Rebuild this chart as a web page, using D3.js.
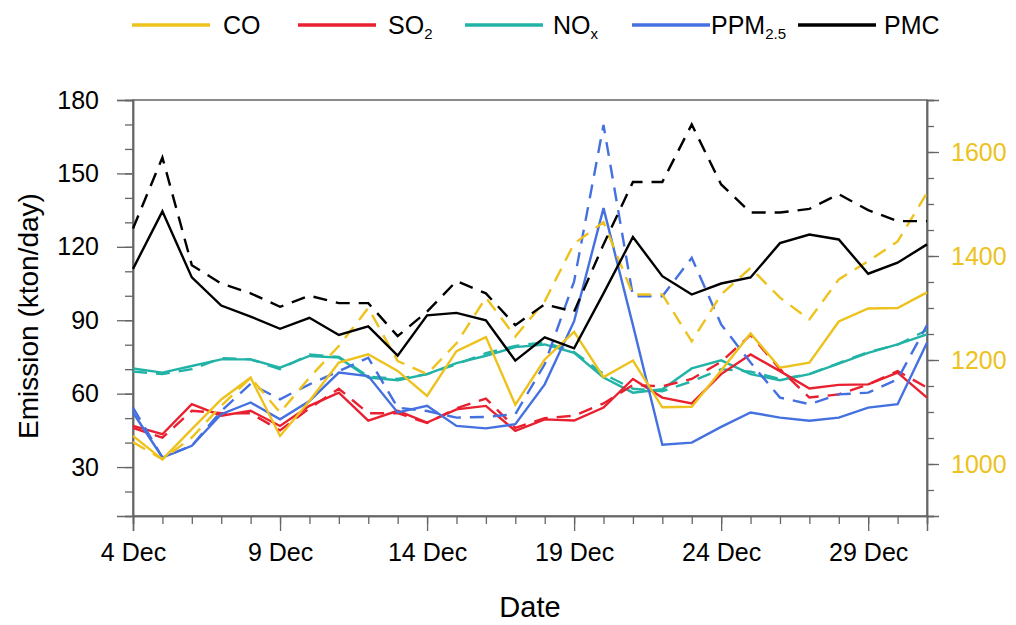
<!DOCTYPE html>
<html>
<head>
<meta charset="utf-8">
<script src="https://cdn.jsdelivr.net/npm/d3@7"></script>
<style>
  html, body { margin: 0; padding: 0; background: #fff; }
  svg { display: block; font-family: "Liberation Sans", Arial, Helvetica, sans-serif; }
</style>
</head>
<body>
<svg id="chart" width="1016" height="625"></svg>
<script>
// ---------- data ----------
const days = [4,5,6,7,8,9,10,11,12,13,14,15,16,17,18,19,20,21,22,23,24,25,26,27,28,29,30,31];
const xTickDays = [4, 9, 14, 19, 24, 29];
const xTickLabels = ["4 Dec", "9 Dec", "14 Dec", "19 Dec", "24 Dec", "29 Dec"];
const leftTicks = [30, 60, 90, 120, 150, 180];
const rightTicks = [1000, 1200, 1400, 1600];

// CO on right axis (solid / dashed)
const coSolid  = [1054,1009,1067,1124,1166,1054,1121,1195,1211,1179,1131,1217,1244,1114,1201,1254,1167,1199,1109,1110,1180,1251,1185,1195,1274,1299,1300,1330];
const coDashed = [1042,1009,1051,1112,1166,1099,1166,1227,1300,1198,1173,1232,1320,1245,1313,1424,1465,1326,1326,1236,1326,1377,1320,1278,1355,1390,1428,1521];
// left axis species
const so2Solid  = [46.8,43.4,55.7,51,53,46.8,55,60.4,49,53,48.2,53.6,55,44.8,49.5,49,54.3,66,58.4,56,68,76,69.2,62.1,63.6,63.8,68.6,58.4];
const so2Dashed = [46,42,53,52,52,45,54,62,52,52,48,54,58,46,50,51,56,63.5,63,66,73,84,70,58.4,59.7,63.8,69.2,62.5];
const noxSolid  = [70.3,68.6,71.3,74,74,70.6,75.4,74.7,66.6,65.5,68,72.5,75.5,79,80.1,76.7,66.6,60.4,61.8,70.3,73.6,68,65.5,68,72.3,76.7,80.1,84.2];
const noxDashed = [69,68,70,74.5,74,70,76,75,67,66,68,72,76.5,79.5,81,77,68,62,61,65,70,69,66,68,72.5,77,80,86];
const ppmSolid  = [52.3,33.9,38.7,51.6,56.4,49.5,57,68.6,67.2,52.3,55,46.8,45.8,47.5,63.8,89.6,135.8,88,39.1,40,46.4,52.3,50.2,48.9,50.2,54.3,55.7,80.8];
const ppmDashed = [54.3,33.9,38.7,52.9,64,57.7,63.8,69.2,74.7,54.3,52.9,50.2,50.5,51.6,72,105.9,169.8,99.8,99.8,115.5,88.3,72.7,58.4,55.7,59.7,60.4,65.9,88];
const pmcSolid  = [111,134.5,107.5,96,91.5,86.5,91,84,87.5,75.5,92,93,90,73.5,83,78.5,101,124,108,100.5,105,107.5,121.5,125,123,109,113.5,121];
const pmcDashed = [127.5,156.5,112.5,105,101,95.5,100,97,97,83.5,93.5,106,101,88,96.5,93.5,121,146.5,146.5,170,145.5,134,134,135.5,141.5,135,130.5,130.5];

const legendNames = [
  {main: "CO", sub: ""},
  {main: "SO", sub: "2"},
  {main: "NO", sub: "x"},
  {main: "PPM", sub: "2.5"},
  {main: "PMC", sub: ""}
];
const colors = ["#EEC21C", "#E8202F", "#22B3A6", "#4470E0", "#000000"];

// ---------- layout ----------
const svg = d3.select("#chart");
const L = 133, R = 927, T = 100, B = 516;

const x = d3.scaleLinear().domain([4, 31]).range([L, R]);
const yL = d3.scaleLinear().domain([10, 180]).range([B, T]);
const yR = d3.scaleLinear().domain([900, 1700]).range([B, T]);

const frameColor = "#666";

// frame
svg.append("rect").attr("x", L).attr("y", T).attr("width", R - L).attr("height", B - T)
  .attr("fill", "none").attr("stroke", frameColor).attr("stroke-width", 1.5);

// left axis
const leftAxis = d3.axisLeft(yL).tickValues(leftTicks).tickSize(16).tickPadding(18);
svg.append("g").attr("transform", `translate(${L},0)`).call(leftAxis);
const leftMinor = d3.axisLeft(yL).tickValues(d3.range(10, 181, 10)).tickSize(8).tickFormat("");
svg.append("g").attr("transform", `translate(${L},0)`).call(leftMinor);

// right axis
const rightAxis = d3.axisRight(yR).tickValues(rightTicks).tickSize(12).tickPadding(12).tickFormat(d3.format("d"));
const gr = svg.append("g").attr("transform", `translate(${R},0)`).call(rightAxis);
const rightMinor = d3.axisRight(yR).tickValues(d3.range(900, 1701, 50)).tickSize(7).tickFormat("");
svg.append("g").attr("transform", `translate(${R},0)`).call(rightMinor);

// bottom axis
const bottomAxis = d3.axisBottom(x).tickValues(xTickDays).tickSize(15).tickPadding(12)
  .tickFormat((d, i) => xTickLabels[i]);
svg.append("g").attr("transform", `translate(0,${B})`).call(bottomAxis);
const bottomMinor = d3.axisBottom(x).tickValues(days).tickSize(8).tickFormat("");
svg.append("g").attr("transform", `translate(0,${B})`).call(bottomMinor);

svg.selectAll(".domain").attr("stroke", frameColor).attr("stroke-width", 1.5);
svg.selectAll(".tick line").attr("stroke", frameColor).attr("stroke-width", 1.3);
svg.selectAll(".tick text").attr("font-size", 25).attr("font-family", "Liberation Sans, Arial, sans-serif").attr("fill", "#000");
gr.selectAll(".tick text").attr("fill", colors[0]);

// axis titles
svg.append("text").attr("transform", `translate(28,${(T + B) / 2 + 8}) rotate(-90)`)
  .attr("text-anchor", "middle").attr("dominant-baseline", "central")
  .attr("font-size", 28).text("Emission (kton/day)");
svg.append("text").attr("x", (L + R) / 2).attr("y", 607)
  .attr("text-anchor", "middle").attr("dominant-baseline", "central")
  .attr("font-size", 29).text("Date");

// lines
const lineL = d3.line().x((d, i) => x(days[i])).y(d => yL(d));
const lineR = d3.line().x((d, i) => x(days[i])).y(d => yR(d));

const series = [
  {data: noxDashed, line: lineL, color: colors[2], dash: true},
  {data: noxSolid,  line: lineL, color: colors[2], dash: false},
  {data: so2Dashed, line: lineL, color: colors[1], dash: true},
  {data: so2Solid,  line: lineL, color: colors[1], dash: false},
  {data: ppmDashed, line: lineL, color: colors[3], dash: true},
  {data: ppmSolid,  line: lineL, color: colors[3], dash: false},
  {data: coDashed,  line: lineR, color: colors[0], dash: true},
  {data: coSolid,   line: lineR, color: colors[0], dash: false},
  {data: pmcDashed, line: lineL, color: colors[4], dash: true},
  {data: pmcSolid,  line: lineL, color: colors[4], dash: false}
];
const plot = svg.append("g");
series.forEach(s => {
  plot.append("path").attr("d", s.line(s.data)).attr("fill", "none")
    .attr("stroke", s.color).attr("stroke-width", 2.4)
    .attr("stroke-linejoin", "miter")
    .attr("stroke-dasharray", s.dash ? "14,9" : null);
});

// legend
const legLineX = [132, 298, 465, 632, 798];
const legTextX = [223, 388, 553, 711, 884];
const legLen = 78, legY = 25;
legendNames.forEach((n, i) => {
  const lx = legLineX[i];
  svg.append("line").attr("x1", lx).attr("x2", lx + legLen).attr("y1", legY).attr("y2", legY)
    .attr("stroke", colors[i]).attr("stroke-width", 3.5);
  const t = svg.append("text").attr("x", legTextX[i]).attr("y", legY)
    .attr("dominant-baseline", "central").attr("font-size", 25);
  t.append("tspan").text(n.main);
  if (n.sub) t.append("tspan").attr("font-size", 15).attr("dy", 8).text(n.sub);
});
</script>
</body>
</html>
